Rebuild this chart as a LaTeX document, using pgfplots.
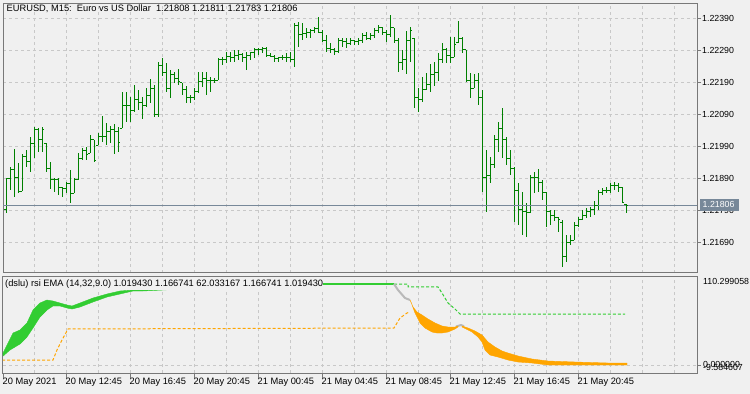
\documentclass[border=0pt]{standalone}
\usepackage{pgfplots}
\pgfplotsset{compat=1.18}
\usepackage{pgfplotstable}
\usepackage{fontspec}
\setmainfont{Liberation Sans}
\definecolor{bg}{RGB}{240,240,240}
\definecolor{gridc}{RGB}{200,200,200}
\definecolor{framec}{RGB}{120,120,120}
\definecolor{barg}{RGB}{0,128,0}
\definecolor{limeg}{RGB}{50,205,50}
\definecolor{orng}{RGB}{255,165,0}
\definecolor{silv}{RGB}{185,185,185}
\definecolor{slate}{RGB}{119,136,153}
\newcommand{\mtf}{\fontsize{8.8bp}{10bp}\selectfont}
\newcommand{\mtt}{\fontsize{9.3bp}{10bp}\selectfont}
\pgfdeclareplotmark{otick}{\pgfpathmoveto{\pgfqpoint{-2bp}{0pt}}\pgfpathlineto{\pgfqpoint{0pt}{0pt}}\pgfusepathqstroke}
\pgfdeclareplotmark{ctick}{\pgfpathmoveto{\pgfqpoint{0pt}{0pt}}\pgfpathlineto{\pgfqpoint{2bp}{0pt}}\pgfusepathqstroke}
\pgfplotstableread{
i H L O C
1 1.21891 1.21782 1.21791 1.21888
2 1.21925 1.21853 1.21888 1.21919
3 1.21982 1.21832 1.21919 1.21894
4 1.21938 1.21844 1.21894 1.21850
5 1.21966 1.21850 1.21850 1.21957
6 1.21978 1.21925 1.21957 1.21944
7 1.22019 1.21910 1.21944 1.22000
8 1.22050 1.21953 1.22000 1.22041
9 1.22047 1.21972 1.22041 1.22010
10 1.22050 1.21972 1.22010 1.22041
11 1.22000 1.21910 1.22000 1.21922
12 1.21941 1.21857 1.21922 1.21885
13 1.21891 1.21847 1.21885 1.21885
14 1.21891 1.21838 1.21885 1.21860
15 1.21863 1.21832 1.21860 1.21857
16 1.21878 1.21844 1.21857 1.21875
17 1.21916 1.21813 1.21875 1.21844
18 1.21891 1.21844 1.21844 1.21885
19 1.21969 1.21885 1.21885 1.21953
20 1.21985 1.21947 1.21953 1.21978
21 1.21988 1.21947 1.21978 1.21963
22 1.22025 1.21969 1.21969 1.22010
23 1.22010 1.21941 1.22010 1.21947
24 1.22032 1.21994 1.21994 1.22022
25 1.22085 1.22003 1.22022 1.22022
26 1.22063 1.21994 1.22022 1.22035
27 1.22053 1.22000 1.22035 1.22041
28 1.22060 1.21966 1.22041 1.22035
29 1.22050 1.21972 1.22035 1.22003
30 1.22160 1.22047 1.22047 1.22119
31 1.22160 1.22066 1.22119 1.22119
32 1.22144 1.22066 1.22119 1.22103
33 1.22182 1.22097 1.22103 1.22135
34 1.22166 1.22103 1.22135 1.22128
35 1.22144 1.22075 1.22128 1.22119
36 1.22172 1.22113 1.22119 1.22150
37 1.22200 1.22125 1.22150 1.22172
38 1.22182 1.22082 1.22172 1.22088
39 1.22253 1.22082 1.22088 1.22244
40 1.22266 1.22210 1.22244 1.22222
41 1.22250 1.22160 1.22222 1.22172
42 1.22228 1.22141 1.22172 1.22213
43 1.22222 1.22188 1.22213 1.22203
44 1.22232 1.22182 1.22203 1.22191
45 1.22188 1.22150 1.22188 1.22166
46 1.22178 1.22125 1.22166 1.22141
47 1.22150 1.22125 1.22141 1.22144
48 1.22172 1.22135 1.22144 1.22160
49 1.22222 1.22157 1.22160 1.22191
50 1.22222 1.22175 1.22191 1.22203
51 1.22222 1.22150 1.22203 1.22197
52 1.22207 1.22160 1.22197 1.22197
53 1.22203 1.22188 1.22197 1.22197
54 1.22266 1.22197 1.22197 1.22260
55 1.22269 1.22244 1.22260 1.22260
56 1.22285 1.22250 1.22260 1.22272
57 1.22285 1.22253 1.22272 1.22266
58 1.22291 1.22253 1.22266 1.22275
59 1.22291 1.22260 1.22275 1.22278
60 1.22282 1.22253 1.22278 1.22269
61 1.22285 1.22228 1.22269 1.22275
62 1.22285 1.22260 1.22275 1.22282
63 1.22297 1.22266 1.22282 1.22291
64 1.22297 1.22275 1.22291 1.22291
65 1.22300 1.22282 1.22291 1.22297
66 1.22300 1.22269 1.22297 1.22275
67 1.22282 1.22269 1.22275 1.22272
68 1.22275 1.22253 1.22272 1.22263
69 1.22269 1.22253 1.22263 1.22266
70 1.22275 1.22260 1.22266 1.22266
71 1.22282 1.22253 1.22266 1.22266
72 1.22285 1.22253 1.22266 1.22260
73 1.22375 1.22238 1.22260 1.22369
74 1.22378 1.22300 1.22369 1.22338
75 1.22375 1.22322 1.22338 1.22344
76 1.22360 1.22328 1.22344 1.22347
77 1.22357 1.22328 1.22347 1.22353
78 1.22363 1.22344 1.22353 1.22357
79 1.22394 1.22344 1.22357 1.22347
80 1.22353 1.22316 1.22347 1.22322
81 1.22338 1.22285 1.22322 1.22297
82 1.22313 1.22282 1.22297 1.22291
83 1.22297 1.22275 1.22291 1.22285
84 1.22328 1.22282 1.22285 1.22322
85 1.22328 1.22300 1.22322 1.22316
86 1.22328 1.22297 1.22316 1.22310
87 1.22328 1.22307 1.22310 1.22322
88 1.22322 1.22307 1.22322 1.22316
89 1.22328 1.22307 1.22316 1.22322
90 1.22344 1.22313 1.22322 1.22335
91 1.22347 1.22322 1.22335 1.22328
92 1.22344 1.22322 1.22328 1.22335
93 1.22360 1.22328 1.22335 1.22353
94 1.22369 1.22344 1.22353 1.22360
95 1.22363 1.22338 1.22360 1.22347
96 1.22353 1.22316 1.22347 1.22338
97 1.22400 1.22332 1.22338 1.22360
98 1.22360 1.22313 1.22360 1.22322
99 1.22328 1.22222 1.22322 1.22253
100 1.22291 1.22228 1.22253 1.22260
101 1.22350 1.22216 1.22260 1.22322
102 1.22363 1.22253 1.22322 1.22353
103 1.22328 1.22110 1.22328 1.22141
104 1.22172 1.22097 1.22141 1.22135
105 1.22207 1.22128 1.22135 1.22166
106 1.22219 1.22166 1.22166 1.22182
107 1.22247 1.22160 1.22182 1.22213
108 1.22253 1.22178 1.22213 1.22222
109 1.22282 1.22194 1.22222 1.22260
110 1.22313 1.22250 1.22260 1.22291
111 1.22297 1.22250 1.22291 1.22275
112 1.22332 1.22250 1.22275 1.22269
113 1.22332 1.22269 1.22269 1.22307
114 1.22382 1.22313 1.22313 1.22328
115 1.22332 1.22282 1.22328 1.22291
116 1.22291 1.22191 1.22291 1.22197
117 1.22219 1.22141 1.22197 1.22172
118 1.22216 1.22172 1.22172 1.22197
119 1.22219 1.22119 1.22197 1.22141
120 1.22166 1.21847 1.22141 1.21891
121 1.21978 1.21785 1.21891 1.21900
122 1.21957 1.21875 1.21900 1.21932
123 1.22025 1.21922 1.21932 1.22010
124 1.22066 1.21972 1.22010 1.22047
125 1.22110 1.21953 1.22047 1.22010
126 1.22019 1.21932 1.22010 1.21953
127 1.21978 1.21900 1.21953 1.21922
128 1.21925 1.21753 1.21922 1.21853
129 1.21875 1.21744 1.21853 1.21791
130 1.21847 1.21713 1.21791 1.21785
131 1.21813 1.21707 1.21785 1.21782
132 1.21900 1.21782 1.21782 1.21891
133 1.21910 1.21844 1.21891 1.21891
134 1.21919 1.21847 1.21891 1.21878
135 1.21885 1.21822 1.21878 1.21847
136 1.21847 1.21738 1.21847 1.21785
137 1.21791 1.21744 1.21785 1.21775
138 1.21791 1.21757 1.21775 1.21769
139 1.21769 1.21722 1.21769 1.21760
140 1.21760 1.21613 1.21753 1.21647
141 1.21713 1.21628 1.21647 1.21688
142 1.21713 1.21682 1.21688 1.21697
143 1.21753 1.21703 1.21697 1.21744
144 1.21769 1.21738 1.21744 1.21760
145 1.21791 1.21760 1.21760 1.21775
146 1.21797 1.21766 1.21775 1.21785
147 1.21800 1.21769 1.21785 1.21791
148 1.21819 1.21775 1.21791 1.21806
149 1.21853 1.21791 1.21806 1.21847
150 1.21860 1.21838 1.21847 1.21853
151 1.21863 1.21844 1.21853 1.21853
152 1.21875 1.21844 1.21853 1.21866
153 1.21878 1.21853 1.21866 1.21869
154 1.21875 1.21847 1.21869 1.21860
155 1.21863 1.21813 1.21860 1.21813
156 1.21811 1.21783 1.21808 1.21806
}\ohlc
\begin{document}
\begin{tikzpicture}
\fill[bg] (0,0) rectangle (750bp,-394bp);
\useasboundingbox (0,0) rectangle (750bp,-394bp);
% ---------------- main price panel
\begin{axis}[
  at={(3bp,-3bp)}, anchor=north west, scale only axis,
  width=694bp, height=270bp,
  xmin=0.25, xmax=173.75, ymin=1.215941, ymax=1.224378,
  axis line style={framec, line width=1bp},
  xtick={0,8,...,168}, xticklabels={}, xtick style={draw=none},
  ytick={1.2169,1.2179,1.2189,1.2199,1.2209,1.2219,1.2229,1.2239},
  yticklabels={1.21690,1.21790,1.21890,1.21990,1.22090,1.22190,1.22290,1.22390},
  ytick pos=right, tick align=outside, major tick length=4bp,
  ytick style={framec, line width=1bp},
  yticklabel style={font=\mtf, anchor=west, inner sep=1bp, text=black},
  xmajorgrids, ymajorgrids,
  grid style={gridc, dash pattern=on 3bp off 3bp, line width=0.9bp},
]
\addplot[barg, line width=1bp, only marks, mark=otick,
  error bars/.cd, y dir=both, y explicit, error mark=none,
  error bar style={line width=1bp, barg}]
  table[x=i, y=O, y error plus expr=\thisrow{H}-\thisrow{O}, y error minus expr=\thisrow{O}-\thisrow{L}] {\ohlc};
\addplot[barg, line width=1bp, only marks, mark=ctick] table[x=i, y=C] {\ohlc};
\addplot[slate, line width=1bp] coordinates {(0,1.21806) (174,1.21806)};
\end{axis}
\node[font=\mtt, anchor=west, inner sep=0pt] at (6.5bp,-9bp) {EURUSD, M15:\ \ Euro vs US Dollar\ \ 1.21808 1.21811 1.21783 1.21806};
\fill[slate] (699.5bp,-198.5bp) rectangle (738.5bp,-211bp);
\node[font=\mtf, text=white, anchor=west, inner sep=0pt] at (702.5bp,-204.7bp) {1.21806};
% ---------------- indicator panel
\begin{axis}[
  at={(3bp,-276bp)}, anchor=north west, scale only axis,
  width=694bp, height=97bp,
  xmin=0.25, xmax=173.75, ymin=-9.584607, ymax=110.299058,
  axis line style={framec, line width=1bp},
  xtick={16,32,...,144},
  xticklabels={20 May 12:45,20 May 16:45,20 May 20:45,21 May 00:45,21 May 04:45,21 May 08:45,21 May 12:45,21 May 16:45,21 May 20:45},
  minor xtick={8,24,...,168,160},
  xtick pos=bottom, tick align=outside, major tick length=4.5bp, minor tick length=0pt,
  xtick style={framec, line width=1bp},
  xticklabel style={font=\mtt, anchor=north west, inner sep=0pt, xshift=-0.5bp, yshift=-0.3bp, text=black},
  ytick={0}, yticklabels={}, ytick style={draw=none},
  xmajorgrids, xminorgrids, ymajorgrids,
  grid style={gridc, dash pattern=on 3bp off 3bp, line width=0.9bp},
  minor grid style={gridc, dash pattern=on 3bp off 3bp, line width=0.9bp},
]
% green band
\addplot[fill=limeg, draw=limeg, line width=0.4bp] coordinates {
(0,12.66) (1.25,25.02) (2.75,39.85) (4.5,43.56) (6.25,52.21) (7.75,68.28) (9.5,76.93) (11.25,80.64) (12.75,79.40) (14.5,76.93) (16.25,74.46) (17.5,73.22) (19.5,76.93) (22.75,83.11) (26.25,88.05) (29.5,91.76) (32.75,93.0) (35.25,93.0) (45,96.71) (55,99.17) (65,100.41)
(55,97.94) (45,94.23) (35.25,91.76) (32.75,91.76) (29.5,88.05) (26.25,84.35) (22.75,78.17) (19.5,71.99) (17.5,69.51) (16.25,70.75) (14.5,73.22) (12.75,73.22) (11.25,68.28) (9.5,59.63) (7.75,46.03) (6.25,34.91) (4.5,26.26) (2,18.84) (0,10.19)} -- cycle;
\addplot[limeg, line width=2bp] coordinates {(65,100.41) (98,100.41)};
% dashed levels
\addplot[orng, line width=1bp, dash pattern=on 3bp off 2bp] coordinates {
(0,6.48) (12.75,6.48) (13.75,18.84) (15,31.20) (16.5,44.80) (98,46.03) (99.5,58.39) (101.25,64.57) (102,65.81)};
\addplot[limeg, line width=1bp, dash pattern=on 3bp off 2bp] coordinates {
(98,100.41) (101.5,100.41) (101.5,96.71) (109,96.71) (110,89.29) (111.5,76.93) (113.25,69.51) (114.5,63.33) (155.75,63.33)};
% gray transitions
\addplot[silv, line width=2bp] coordinates {(98,100.41) (99,93.0) (100.75,83.11) (102,80.64)};
\addplot[silv, line width=2bp] coordinates {(113.5,47.9) (114.75,49.74) (115.5,48.2)};
% orange bands
\addplot[fill=orng, draw=orng, line width=0.4bp] coordinates {
(102,80.64) (102.75,71.99) (103.75,65.81) (105,62.10) (106.5,57.16) (108.25,52.21) (110,48.51) (111.5,47.27) (113.25,47.27) (114,48.51)
(114,47.27) (113.25,44.80) (111.5,41.09) (110,39.85) (108.75,39.85) (107.5,41.09) (105.75,46.03) (104.5,52.21) (103.25,64.57) (102.25,78.17)} -- cycle;
\addplot[fill=orng, draw=orng, line width=0.4bp] coordinates {
(115,48.51) (116.5,46.03) (118.25,42.32) (120,37.38) (121.5,28.73) (123.25,22.55) (125,17.61) (126.5,15.13) (129,11.43) (132.5,7.72) (136.5,5.25) (143.25,4.01) (151.5,2.77) (156.25,2.77)
(156.25,0.30) (143.25,0.30) (136.5,0.30) (132.5,2.77) (129,4.01) (126.5,6.48) (124,10.19) (122,12.66) (120.75,18.84) (120,28.73) (119,34.91) (117.5,41.09) (115,47.27)} -- cycle;
\end{axis}
\draw[framec, line width=1bp] (3bp,-373bp) -- (3bp,-377.5bp);
\node[font=\mtt, anchor=north west, inner sep=0pt] at (2.5bp,-377.8bp) {20 May 2021};
\fill[bg] (4bp,-277.5bp) rectangle (323bp,-290bp);
\node[font=\mtt, anchor=west, inner sep=0pt] at (5bp,-284bp) {(dslu) rsi EMA (14,32,9.0) 1.019430 1.166741 62.033167 1.166741 1.019430};
\draw[framec, line width=1bp] (697bp,-365.2bp) -- (701bp,-365.2bp);
\node[font=\mtf, anchor=west, inner sep=0pt] at (703bp,-281bp) {110.299058};
\node[font=\mtf, anchor=west, inner sep=0pt] at (703bp,-367.5bp) {-9.584607};
\node[font=\mtf, anchor=west, inner sep=0pt] at (703bp,-364.5bp) {0.000000};
\end{tikzpicture}
\end{document}
